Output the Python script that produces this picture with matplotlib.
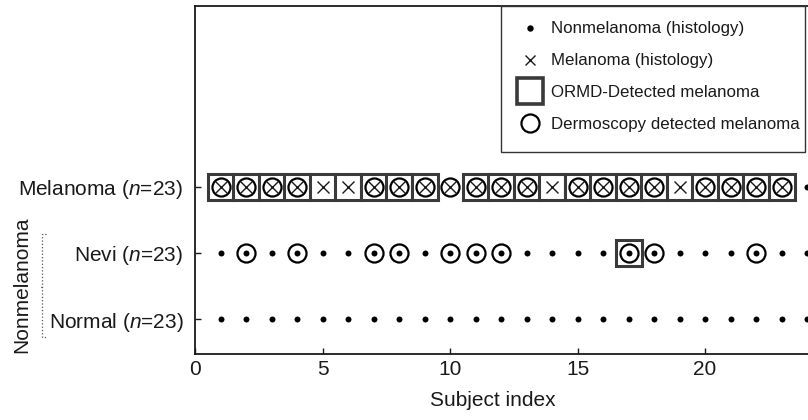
import matplotlib
matplotlib.use("Agg")
import matplotlib.pyplot as plt
from matplotlib.lines import Line2D
from matplotlib.patches import Rectangle

plt.rcParams["font.family"] = ["Liberation Sans", "DejaVu Sans"]
plt.rcParams["mathtext.fontset"] = "custom"
plt.rcParams["mathtext.it"] = "Liberation Sans:italic"
plt.rcParams["mathtext.rm"] = "Liberation Sans"

W, H = 808, 420
INK = "#1a1a1a"
BOX = "#3a3a3a"

# row positions on the y axis
row_labels = ["Normal ($n$=23)", "Nevi ($n$=23)", "Melanoma ($n$=23)"]
row_y = [1, 2, 3]

# melanoma row (y=3)
mel_histology = list(range(1, 24))
mel_dermoscopy = [1, 2, 3, 4, 7, 8, 9, 10, 11, 12, 13, 15, 16, 17, 18, 20, 21, 22, 23]
mel_ormd = [1, 2, 3, 4, 5, 6, 7, 8, 9, 11, 12, 13, 14, 15, 16, 17, 18, 19, 20, 21, 22, 23]
mel_dots = [24]

# nevi row (y=2)
nevi_dots = list(range(1, 25))
nevi_dermoscopy = [2, 4, 7, 8, 10, 11, 12, 17, 18, 22]
nevi_ormd = [17]

# normal row (y=1)
normal_dots = list(range(1, 25))

x_ticks = [0, 5, 10, 15, 20]


def px(x, y):
    return x / W, 1 - y / H


fig = plt.figure(figsize=(W / 100, H / 100), dpi=100)
ax = fig.add_axes([195 / W, (H - 354) / H, 637.5 / W, 348 / H])

box_kw = dict(ls="none", marker="s", ms=18.5, mfc="white", mec=BOX, mew=2.2, zorder=2)
circ_kw = dict(ls="none", marker="o", ms=13, mfc="none", mec="black", mew=1.6, zorder=3)
x_kw = dict(ls="none", marker="x", ms=8.5, mec=INK, mew=1.0, zorder=4)
dot_kw = dict(ls="none", marker="o", ms=4.3, mfc="black", mec="black", mew=0, zorder=4)

ax.plot(mel_ormd, [3] * len(mel_ormd), **box_kw)
ax.plot(mel_dermoscopy, [3] * len(mel_dermoscopy), **circ_kw)
ax.plot(mel_histology, [3] * len(mel_histology), **x_kw)
ax.plot(mel_dots, [3] * len(mel_dots), **dot_kw)

ax.plot(nevi_ormd, [2] * len(nevi_ormd), **box_kw)
ax.plot(nevi_dermoscopy, [2] * len(nevi_dermoscopy), **circ_kw)
ax.plot(nevi_dots, [2] * len(nevi_dots), **dot_kw)

ax.plot(normal_dots, [1] * len(normal_dots), **dot_kw)

ax.set_xlim(0, 25)
ax.set_ylim(0.47, 5.74)
ax.set_xticks(x_ticks)
ax.set_yticks(row_y)
ax.set_yticklabels(row_labels)
for s in ax.spines.values():
    s.set_color(INK)
    s.set_linewidth(1.3)
ax.tick_params(direction="in", length=4.5, width=1.0, labelsize=15, colors=INK)
ax.tick_params(axis="x", pad=4.5)
ax.tick_params(axis="y", pad=8.5)

ax.set_xlabel("Subject index", fontsize=15, color=INK, va="top")
ax.xaxis.set_label_coords((493 - 195) / 637.5, -0.106)

# group label for the two nonmelanoma rows
fig.text(*px(22, 285), "Nonmelanoma", rotation=90, ha="center", va="center",
         fontsize=15, color=INK)
bracket = [
    [(46, 234), (42, 234), (42, 337), (46, 337)],
    [(42, 287), (39, 287)],
]
for seg in bracket:
    xs, ys = zip(*[px(a, b) for a, b in seg])
    fig.add_artist(Line2D(xs, ys, ls=":", lw=0.9, color="#555555"))

# legend with its own frame
x0, y0 = px(501, 152)
fig.add_artist(Rectangle((x0, y0), (805 - 501) / W, (152 - 6) / H, transform=fig.transFigure,
                         facecolor="white", edgecolor="#333333", lw=1.0, zorder=3))
handles = [
    Line2D([], [], **{**dot_kw, "ms": 4.6}),
    Line2D([], [], **{**x_kw, "ms": 7.5}),
    Line2D([], [], **{**box_kw, "ms": 18.5, "mew": 2.6}),
    Line2D([], [], **circ_kw),
]
labels = ["Nonmelanoma (histology)", "Melanoma (histology)",
          "ORMD-Detected melanoma", "Dermoscopy detected melanoma"]
lx, ly = px(513.0, 21.5)
leg = fig.legend(handles, labels, loc="upper left", bbox_to_anchor=(lx, ly),
                 bbox_transform=fig.transFigure, frameon=False, fontsize=12.2,
                 borderpad=0, borderaxespad=0, handlelength=2.0, handletextpad=0.22,
                 labelspacing=1.0)
leg.set_zorder(5)
for t in leg.get_texts():
    t.set_color(INK)

fig.savefig("out.png", dpi=100)
